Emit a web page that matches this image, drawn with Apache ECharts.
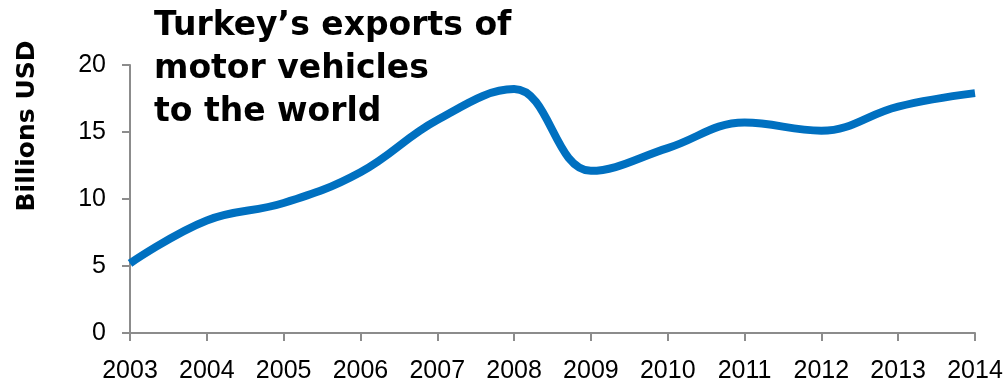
<!DOCTYPE html>
<html>
<head>
<meta charset="utf-8">
<script src="https://cdn.jsdelivr.net/npm/echarts@6/dist/echarts.min.js"></script>
<style>
  html, body { margin: 0; padding: 0; background: #fff; }
  #chart { width: 1004px; height: 382px; }
</style>
</head>
<body>
<div id="chart"></div>
<script>
// Turkey's motor vehicle exports, billions USD
const years = ['2003', '2004', '2005', '2006', '2007', '2008', '2009', '2010', '2011', '2012', '2013', '2014'];
const exportsBn = [5.2, 8.4, 9.7, 12.0, 15.9, 18.2, 12.1, 13.8, 15.7, 15.1, 16.9, 17.9];
const yTicks = [0, 5, 10, 15, 20];

const titleLines = ['Turkey\u2019s exports of', 'motor vehicles', 'to the world'];
const axisGray = '#8c8c8c';
const labelFont = '"Liberation Sans", Arial, sans-serif';

const chart = echarts.init(document.getElementById('chart'), null, { renderer: 'canvas' });

chart.setOption({
  animation: false,
  backgroundColor: '#ffffff',
  grid: { left: 130, right: 29, top: 65, bottom: 49, containLabel: false, outerBoundsMode: 'none' },
  xAxis: {
    type: 'category',
    data: years,
    boundaryGap: false,
    axisLine: { lineStyle: { color: axisGray, width: 2 } },
    axisTick: { show: true, length: 8, lineStyle: { color: axisGray, width: 2 }, alignWithLabel: true },
    axisLabel: { color: '#000', fontSize: 25, fontFamily: labelFont, margin: 26 },
    splitLine: { show: false }
  },
  yAxis: {
    type: 'value',
    min: yTicks[0],
    max: yTicks[yTicks.length - 1],
    interval: 5,
    axisLine: { show: true, lineStyle: { color: axisGray, width: 2 } },
    axisTick: { show: true, length: 8, lineStyle: { color: axisGray, width: 2 } },
    axisLabel: { color: '#000', fontSize: 25, fontFamily: labelFont, margin: 24 },
    splitLine: { show: false }
  },
  series: [{
    type: 'line',
    data: exportsBn,
    smooth: 0.4,
    symbol: 'none',
    lineStyle: { color: '#0070C0', width: 8, cap: 'butt' }
  }],
  graphic: [
    {
      type: 'text',
      left: 154,
      top: 5,
      style: {
        text: titleLines.join('\n'),
        font: 'bold 33px "DejaVu Sans", sans-serif',
        lineHeight: 43,
        fill: '#000'
      }
    },
    {
      type: 'text',
      x: 27,
      y: 126,
      rotation: Math.PI / 2,
      style: {
        text: 'Billions USD',
        font: 'bold 25px "DejaVu Sans", sans-serif',
        fill: '#000',
        align: 'center',
        verticalAlign: 'middle'
      }
    }
  ]
});
</script>
</body>
</html>
